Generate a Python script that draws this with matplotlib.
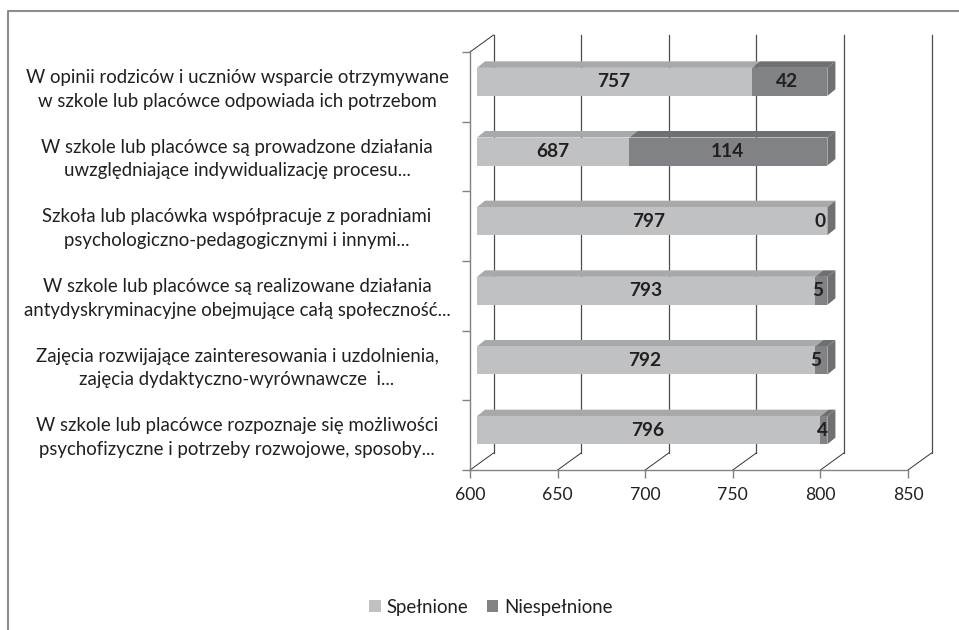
import matplotlib
matplotlib.use('Agg')
import matplotlib.pyplot as plt
from matplotlib.patches import Polygon, Rectangle
from matplotlib.lines import Line2D

labels = [
    'W opinii rodziców i uczniów wsparcie otrzymywane\nw szkole lub placówce odpowiada ich potrzebom',
    'W szkole lub placówce są prowadzone działania\nuwzględniające indywidualizację procesu...',
    'Szkoła lub placówka współpracuje z poradniami\npsychologiczno-pedagogicznymi i innymi...',
    'W szkole lub placówce są realizowane działania\nantydyskryminacyjne obejmujące całą społeczność...',
    'Zajęcia rozwijające zainteresowania i uzdolnienia,\nzajęcia dydaktyczno-wyrównawcze  i...',
    'W szkole lub placówce rozpoznaje się możliwości\npsychofizyczne i potrzeby rozwojowe, sposoby...',
]
# printed numbers
spelnione = [757, 687, 797, 793, 792, 796]
niespelnione = [42, 114, 0, 5, 5, 4]
# lengths of the bars as drawn in the picture (all end at 800, not quite the printed sums)
spelnione_bar = [757, 687, 800, 793, 793, 796]
niespelnione_bar = [43, 113, 0, 7, 7, 4]
xticks = [600, 650, 700, 750, 800, 850]
series_names = ['Spełnione', 'Niespełnione']

W, H = 959, 630
plt.rcParams['font.family'] = 'Lato'
fig = plt.figure(figsize=(W / 100, H / 100), dpi=100)

# axes box = front plane of the fake 3d chart, in pixels
left, right, top, bottom = 470, 908, 52, 470
ax = fig.add_axes([left / W, 1 - bottom / H, (right - left) / W, (bottom - top) / H])
ax.set_xlim(600, 850)
ax.set_ylim(6, 0)
ax.patch.set_visible(False)
for s in ['top', 'right']:
    ax.spines[s].set_visible(False)
for s in ['left', 'bottom']:
    ax.spines[s].set_color('#808285')
    ax.spines[s].set_linewidth(1.0)

px_x = 250 / (right - left)
px_y = 6 / (bottom - top)
wall_dx, wall_dy = 23.5 * px_x, 17 * px_y
bar_dx, bar_dy = 7 * px_x, 5 * px_y
side_dx, side_dy = 8 * px_x, 6.5 * px_y
bar_h = 28 * px_y

# back wall gridlines and the floor/side slants
for x in xticks:
    ax.plot([x + wall_dx] * 2, [0 - wall_dy, 6 - wall_dy], color='#4d4d4f', lw=0.9, clip_on=False, zorder=1)
    ax.plot([x, x + wall_dx], [6, 6 - wall_dy], color='#333333', lw=0.7, clip_on=False, zorder=1)
ax.plot([600, 600 + wall_dx], [0, -wall_dy], color='#333333', lw=0.7, clip_on=False, zorder=1)

ax.set_xticks(xticks)
ax.set_xticklabels([str(x) for x in xticks], fontsize=12.7, color='#231f20')
ax.tick_params(axis='x', length=6, width=1, color='#808285', pad=6)
ax.set_yticks(range(7))
ax.set_yticklabels([])
ax.tick_params(axis='y', length=6, width=1, color='#808285')

colors = ['#c0c1c3', '#808285']
top_colors = ['#a7a9ab', '#6f7072']
side_color = '#6f7072'

for i in range(len(labels)):
    yc = i + 0.5 - bar_dy
    y0 = yc - bar_h / 2
    seg_left = 600 + bar_dx
    segs = [spelnione_bar[i] - 600, niespelnione_bar[i]]
    for k, w in enumerate(segs):
        ax.add_patch(Rectangle((seg_left, y0), w, bar_h, fc=colors[k], ec='none', zorder=3, clip_on=False))
        ax.add_patch(Polygon([(seg_left, y0), (seg_left + w, y0), (seg_left + w + side_dx, y0 - side_dy),
                              (seg_left + side_dx, y0 - side_dy)], fc=top_colors[k], ec='none', zorder=2.5, clip_on=False))
        seg_left += w
    ax.add_patch(Polygon([(seg_left, y0), (seg_left + side_dx, y0 - side_dy),
                          (seg_left + side_dx, y0 + bar_h - side_dy), (seg_left, y0 + bar_h)],
                         fc=side_color, ec='none', zorder=2.5, clip_on=False))
    ax.text(600 + bar_dx + (spelnione[i] - 600) / 2 - 0.5, yc, str(spelnione[i]), ha='center', va='center',
            fontsize=13.8, fontweight='bold', color='#231f20', zorder=5)
    ax.text(bar_dx + spelnione[i] + niespelnione[i] / 2 - 1, yc, str(niespelnione[i]), ha='center', va='center',
            fontsize=13.8, fontweight='bold', color='#231f20', zorder=5, clip_on=False)

for i, lab in enumerate(labels):
    fig.text(237 / W, 1 - (54.5 + (i + 0.5) * 69.67) / H, lab, ha='center', va='center',
             multialignment='center', fontsize=13.4, color='#231f20', linespacing=1.48)

# outer frame, only top and left are visible in the scan
fig.add_artist(Line2D([8 / W, 8 / W, 1], [0, 1 - 11 / H, 1 - 11 / H], color='#8c8c8c', lw=1.5))

handles = [Rectangle((0, 0), 1, 1, fc=c, ec='none') for c in colors]
fig.legend(handles, series_names, loc='lower center', bbox_to_anchor=(491 / W, 1 - 616 / H), ncol=2, frameon=False,
           fontsize=13.4, handlelength=0.62, handleheight=0.62, handletextpad=0.3, columnspacing=1.0,
           labelcolor='#231f20', borderpad=0, borderaxespad=0)

fig.savefig('out.png', dpi=100)
